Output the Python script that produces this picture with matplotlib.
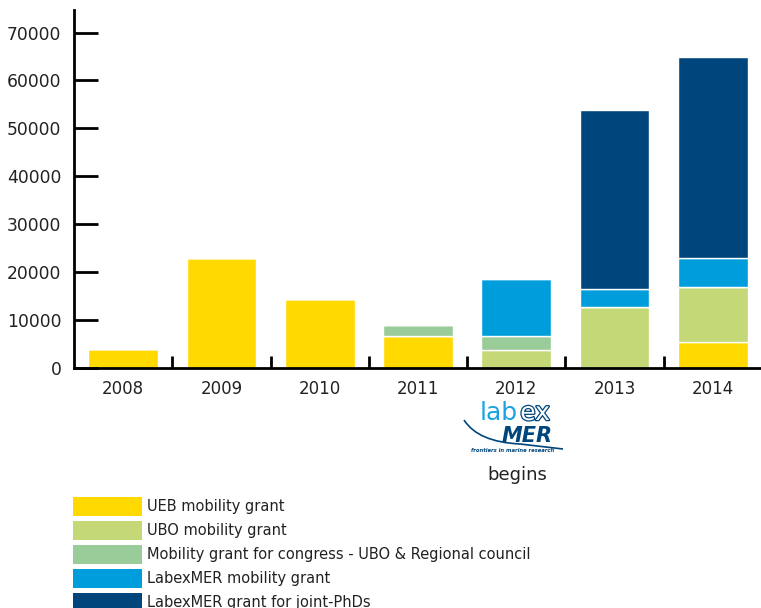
import matplotlib
matplotlib.use("Agg")
import matplotlib.pyplot as plt
import matplotlib.patheffects as pe
from matplotlib.patches import Rectangle, PathPatch
from matplotlib.path import Path
import numpy as np

years = ["2008", "2009", "2010", "2011", "2012", "2013", "2014"]

ueb_mobility = [3900, 23000, 14300, 6700, 0, 0, 5500]
ubo_mobility = [0, 0, 0, 0, 3700, 12800, 11300]
congress_grant = [0, 0, 0, 2200, 2900, 0, 0]
labex_mobility = [0, 0, 0, 0, 12000, 3600, 6100]
labex_phd = [0, 0, 0, 0, 0, 37400, 42000]

series = [
    ("UEB mobility grant", ueb_mobility, "#FFD900"),
    ("UBO mobility grant", ubo_mobility, "#C4D878"),
    ("Mobility grant for congress - UBO & Regional council", congress_grant, "#99CC99"),
    ("LabexMER mobility grant", labex_mobility, "#009DDC"),
    ("LabexMER grant for joint-PhDs", labex_phd, "#00467C"),
]

yticks = [0, 10000, 20000, 30000, 40000, 50000, 60000, 70000]

plt.rcParams.update({"font.family": "DejaVu Sans", "text.color": "#222222"})

W, H = 761, 608
fig = plt.figure(figsize=(W / 100, H / 100), dpi=100)
ax = fig.add_axes([74 / W, 240 / H, 688 / W, 358 / H])

x = np.arange(len(years))
bottom = np.zeros(len(years))
for label, vals, colour in series:
    vals = np.array(vals, dtype=float)
    ax.bar(x, vals, width=0.71, bottom=bottom, color=colour,
           edgecolor="white", linewidth=1.0, label=label)
    bottom += vals

ax.set_xlim(-0.5, 6.5)
ax.set_ylim(0, 74700)

for side in ("top", "right"):
    ax.spines[side].set_visible(False)
ax.spines["left"].set_linewidth(2)
ax.spines["bottom"].set_linewidth(2)

ax.set_yticks(yticks)
ax.set_yticklabels([str(v) for v in yticks], fontsize=12.3, color="#222222")
ax.tick_params(axis="y", direction="in", length=17, width=2, pad=9)

# year labels sit between boundary ticks
ax.set_xticks(x)
ax.set_xticklabels(years, fontsize=12, color="#222222")
ax.tick_params(axis="x", length=0, pad=9)
ax.set_xticks(x[:-1] + 0.5, minor=True)
ax.tick_params(axis="x", which="minor", direction="in", length=9, width=2)


def px(xp, yp):
    return xp / W, 1 - yp / H


navy = "#00467C"

# labexMER logo under 2012
fig.text(*px(499, 413), "lab", fontsize=18, color="#1AA3E0",
         ha="center", va="center")
t = fig.text(*px(535, 413), "ex", fontsize=18, color="white",
             ha="center", va="center")
t.set_path_effects([pe.Stroke(linewidth=1.8, foreground=navy), pe.Normal()])
fig.text(*px(527, 436), "MER", fontsize=15, fontweight="black",
         style="italic", color=navy, ha="center", va="center")
fig.text(*px(513, 451), "frontiers in marine research", fontsize=3.8,
         color=navy, ha="center", va="center", style="italic",
         fontweight="bold")
swoosh = Path([px(464, 420), px(478, 442), px(520, 444), px(563, 449)],
              [Path.MOVETO, Path.CURVE3, Path.CURVE3, Path.LINETO])
fig.add_artist(PathPatch(swoosh, transform=fig.transFigure, facecolor="none",
                         edgecolor=navy, linewidth=1.2))
fig.text(*px(517, 475), "begins", fontsize=13, color="#222222",
         ha="center", va="center")

# legend drawn as boxes with labels beneath the chart
for i, (label, vals, colour) in enumerate(series):
    top = 497 + 24 * i
    fig.add_artist(Rectangle(px(73, top + 19), 69 / W, 19 / H,
                             transform=fig.transFigure, facecolor=colour,
                             edgecolor="none"))
    fig.text(*px(147, top + 9), label, fontsize=10.5, color="#222222",
             ha="left", va="center")

fig.savefig("out.png", dpi=100)
